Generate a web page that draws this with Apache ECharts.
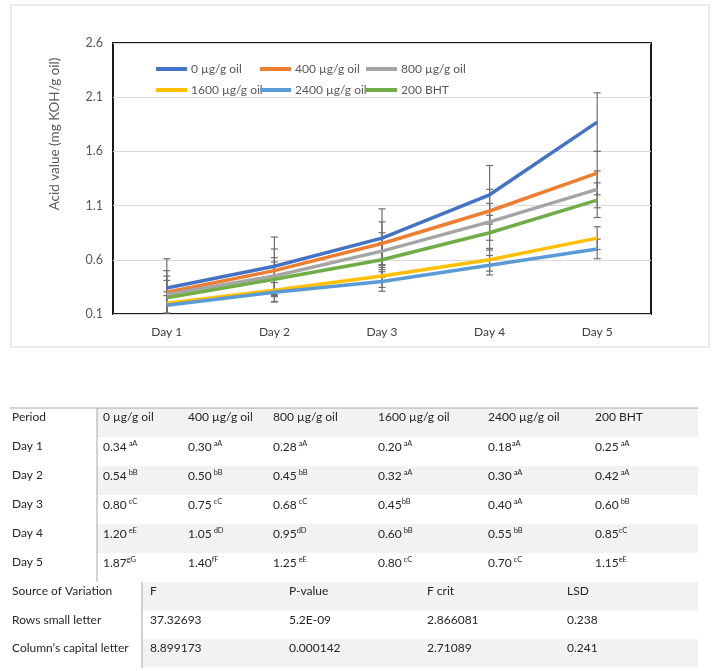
<!DOCTYPE html>
<html><head><meta charset="utf-8">
<script src="https://cdn.jsdelivr.net/npm/echarts@6/dist/echarts.min.js"></script>
<style>html,body{margin:0;padding:0;background:#fff}#c{width:714px;height:671px}</style>
</head><body><div id="c"></div><script>
// ---- data ----
const days = ['Day 1', 'Day 2', 'Day 3', 'Day 4', 'Day 5'];
const seriesNames = ['0 µg/g oil', '400 µg/g oil', '800 µg/g oil', '1600 µg/g oil', '2400 µg/g oil', '200 BHT'];
const v0 = [0.34, 0.54, 0.80, 1.20, 1.87];
const v400 = [0.30, 0.50, 0.75, 1.05, 1.40];
const v800 = [0.28, 0.45, 0.68, 0.95, 1.25];
const v1600 = [0.20, 0.32, 0.45, 0.60, 0.80];
const v2400 = [0.18, 0.30, 0.40, 0.55, 0.70];
const vBHT = [0.25, 0.42, 0.60, 0.85, 1.15];
const errorBars = [0.27, 0.20, 0.17, 0.105, 0.09, 0.16];
const sup0 = [' aA', ' bB', ' cC', ' eE', 'gG'];
const sup400 = [' aA', ' bB', ' cC', ' dD', 'fF'];
const sup800 = [' aA', ' bB', ' cC', 'dD', ' eE'];
const sup1600 = [' aA', ' aA', 'bB', ' bB', ' cC'];
const sup2400 = ['aA', ' aA', ' aA', ' bB', ' cC'];
const supBHT = [' aA', ' aA', ' bB', 'cC', 'eE'];
const anovaHeader = ['Source of Variation', 'F', 'P-value', 'F crit', 'LSD'];
const anovaSources = ['Rows small letter', 'Column\u2019s capital letter'];
const anovaF = ['37.32693', '8.899173'];
const anovaP = ['5.2E-09', '0.000142'];
const anovaFcrit = ['2.866081', '2.71089'];
const anovaLSD = ['0.238', '0.241'];
const yMin = 0.1, yMax = 2.6, yStep = 0.5;
const yTitle = 'Acid value (mg KOH/g oil)';

const values = [v0, v400, v800, v1600, v2400, vBHT];
const sups = [sup0, sup400, sup800, sup1600, sup2400, supBHT];
const colors = ['#4472C4', '#ED7D31', '#A5A5A5', '#FFC000', '#5B9BD5', '#70AD47'];
const FONT = 'Lato, "Open Sans", sans-serif';

const chart = echarts.init(document.getElementById('c'));

// legends: one per item for column alignment
const legendPos = [[156, 63], [260, 63], [366, 63], [156, 84], [260, 84], [366, 84]];
const legends = seriesNames.map((n, i) => ({
  data: [n], left: legendPos[i][0], top: legendPos[i][1],
  icon: 'rect', itemWidth: 31, itemHeight: 4, itemGap: 0, padding: 0,
  selectedMode: false,
  textStyle: { fontFamily: FONT, fontSize: 12, color: '#595959', padding: [0, 0, 0, -1] }
}));

const lineSeries = seriesNames.map((n, i) => ({
  name: n, type: 'line', data: values[i], showSymbol: false, symbol: 'none',
  color: colors[i], lineStyle: { width: 3.5, color: colors[i] }, z: 3, animation: false
}));

const errSeries = seriesNames.map((n, i) => ({
  type: 'custom', clip: true, z: 2, animation: false, silent: true,
  data: values[i].map((v, k) => [k, v, errorBars[i]]),
  renderItem(params, api) {
    const x = api.value(0), y = api.value(1), e = api.value(2);
    const t = api.coord([x, y + e]), b = api.coord([x, y - e]);
    const hw = 3.5, st = { stroke: '#6f6f6f', lineWidth: 1.2 };
    return { type: 'group', children: [
      { type: 'line', shape: { x1: t[0], y1: t[1], x2: b[0], y2: b[1] }, style: st },
      { type: 'line', shape: { x1: t[0] - hw, y1: t[1], x2: t[0] + hw, y2: t[1] }, style: st },
      { type: 'line', shape: { x1: b[0] - hw, y1: b[1], x2: b[0] + hw, y2: b[1] }, style: st }
    ] };
  }
}));

const graphics = [];
graphics.push({ type: 'rect', shape: { x: 11, y: 5, width: 698, height: 342 }, style: { fill: 'none', stroke: '#d9d9d9', lineWidth: 1 }, z: -10 });
graphics.push({ type: 'text', x: 55, y: 134, rotation: Math.PI / 2,
  style: { text: yTitle, font: '13.5px ' + FONT, fill: '#595959', textAlign: 'center', textVerticalAlign: 'middle' } });

// upper table
const tTop = 408, rowH = 29, textOff = 9.5;
const colX = [12, 103, 188, 273, 378, 488, 595];
const shadeCol = '#f2f2f2';
const TF = '12px ' + FONT;
[0, 2, 4].forEach(r => graphics.push({ type: 'rect', shape: { x: 97, y: tTop + r * rowH, width: 601, height: rowH }, style: { fill: shadeCol }, z: -5 }));
graphics.push({ type: 'line', shape: { x1: 10, y1: tTop, x2: 698, y2: tTop }, style: { stroke: '#a6a6a6', lineWidth: 1 } });
graphics.push({ type: 'line', shape: { x1: 97, y1: tTop, x2: 97, y2: tTop + 6 * rowH }, style: { stroke: '#a6a6a6', lineWidth: 1 } });
const txt = (s, x, y) => ({ type: 'text', x: x, y: y, style: { text: s, font: TF, fill: '#262626', textVerticalAlign: 'middle' } });
graphics.push(txt('Period', colX[0], tTop + textOff));
seriesNames.forEach((n, i) => graphics.push(txt(n, colX[i + 1], tTop + textOff)));
days.forEach((d, r) => {
  const y = tTop + (r + 1) * rowH + textOff;
  graphics.push(txt(d, colX[0], y));
  values.forEach((vals, i) => {
    graphics.push({ type: 'text', x: colX[i + 1], y: y - 7, style: {
      text: '{v|' + vals[r].toFixed(2) + '}{s|' + sups[i][r] + '}',
      rich: {
        v: { font: TF, fill: '#262626', lineHeight: 14, verticalAlign: 'bottom' },
        s: { font: '7.5px ' + FONT, fill: '#262626', lineHeight: 14, verticalAlign: 'top' }
      }
    } });
  });
});
// lower ANOVA table
const aTop = tTop + 6 * rowH;
const aRowH = 28.5;
const aX = [12, 150, 289, 427, 567];
[0, 2].forEach(r => graphics.push({ type: 'rect', shape: { x: 142, y: aTop + r * aRowH, width: 556, height: aRowH }, style: { fill: shadeCol }, z: -5 }));
graphics.push({ type: 'line', shape: { x1: 142, y1: aTop, x2: 142, y2: 668 }, style: { stroke: '#a6a6a6', lineWidth: 1 } });
anovaHeader.forEach((h, j) => graphics.push(txt(h, aX[j], aTop + textOff)));
anovaSources.forEach((s, r) => {
  const y = aTop + (r + 1) * aRowH + textOff;
  [s, anovaF[r], anovaP[r], anovaFcrit[r], anovaLSD[r]].forEach((t, j) => graphics.push(txt(t, aX[j], y)));
});

chart.setOption({
  animation: false,
  backgroundColor: '#fff',
  textStyle: { fontFamily: FONT },
  legend: legends,
  grid: { left: 113, top: 43, right: 63, bottom: 357, show: true, borderColor: '#1a1a1a', borderWidth: 2, containLabel: false },
  xAxis: {
    type: 'category', data: days, boundaryGap: true,
    axisLine: { show: false }, axisTick: { show: false },
    axisLabel: { fontFamily: FONT, fontSize: 12, color: '#404040', margin: 12 }
  },
  yAxis: {
    type: 'value', min: yMin, max: yMax, interval: yStep,
    axisLine: { show: false }, axisTick: { show: false },
    axisLabel: { fontFamily: FONT, fontSize: 12.5, color: '#595959', margin: 10, formatter: v => v.toFixed(1) },
    splitLine: { lineStyle: { color: '#d9d9d9', width: 1 } }
  },
  series: [...errSeries, ...lineSeries],
  graphic: graphics
});
</script></body></html>
